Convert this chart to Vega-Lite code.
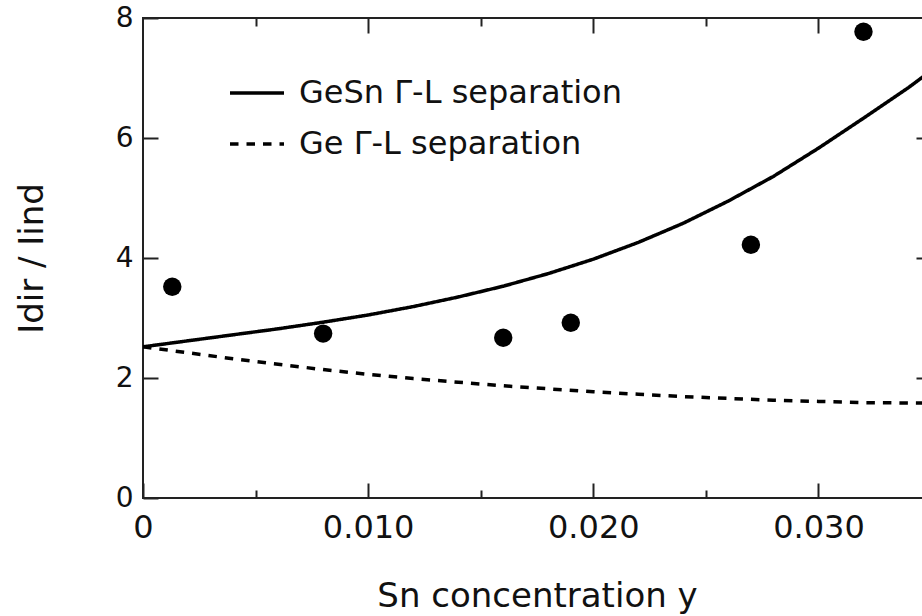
{
  "$schema": "https://vega.github.io/schema/vega-lite/v6.json",
  "autosize": {"type": "none"},
  "width": 788,
  "height": 480,
  "padding": {"left": 143, "top": 18, "right": 0, "bottom": 118},
  "background": "white",
  "config": {
    "view": {"stroke": "#222", "strokeWidth": 2},
    "font": "DejaVu Sans",
    "axis": {
      "grid": false,
      "domain": false,
      "tickColor": "#222",
      "tickWidth": 2,
      "labelColor": "#111",
      "titleColor": "#111",
      "labelFont": "DejaVu Sans",
      "titleFont": "DejaVu Sans",
      "titleFontWeight": "normal"
    }
  },
  "datasets": {
    "measured": [
      {"sn": 0.0013, "ratio": 3.52},
      {"sn": 0.0080, "ratio": 2.74},
      {"sn": 0.0160, "ratio": 2.67},
      {"sn": 0.0190, "ratio": 2.92},
      {"sn": 0.0270, "ratio": 4.22},
      {"sn": 0.0320, "ratio": 7.77}
    ],
    "model": [
      {"series": "GeSn Γ-L separation", "sn": 0.000, "ratio": 2.52},
      {"series": "GeSn Γ-L separation", "sn": 0.002, "ratio": 2.62},
      {"series": "GeSn Γ-L separation", "sn": 0.004, "ratio": 2.72},
      {"series": "GeSn Γ-L separation", "sn": 0.006, "ratio": 2.82},
      {"series": "GeSn Γ-L separation", "sn": 0.008, "ratio": 2.93},
      {"series": "GeSn Γ-L separation", "sn": 0.010, "ratio": 3.05},
      {"series": "GeSn Γ-L separation", "sn": 0.012, "ratio": 3.19},
      {"series": "GeSn Γ-L separation", "sn": 0.014, "ratio": 3.35},
      {"series": "GeSn Γ-L separation", "sn": 0.016, "ratio": 3.53},
      {"series": "GeSn Γ-L separation", "sn": 0.018, "ratio": 3.74},
      {"series": "GeSn Γ-L separation", "sn": 0.020, "ratio": 3.98},
      {"series": "GeSn Γ-L separation", "sn": 0.022, "ratio": 4.26},
      {"series": "GeSn Γ-L separation", "sn": 0.024, "ratio": 4.58},
      {"series": "GeSn Γ-L separation", "sn": 0.026, "ratio": 4.95},
      {"series": "GeSn Γ-L separation", "sn": 0.028, "ratio": 5.36},
      {"series": "GeSn Γ-L separation", "sn": 0.030, "ratio": 5.83},
      {"series": "GeSn Γ-L separation", "sn": 0.032, "ratio": 6.33},
      {"series": "GeSn Γ-L separation", "sn": 0.034, "ratio": 6.84},
      {"series": "GeSn Γ-L separation", "sn": 0.035, "ratio": 7.12},
      {"series": "Ge Γ-L separation", "sn": 0.000, "ratio": 2.52},
      {"series": "Ge Γ-L separation", "sn": 0.002, "ratio": 2.42},
      {"series": "Ge Γ-L separation", "sn": 0.004, "ratio": 2.32},
      {"series": "Ge Γ-L separation", "sn": 0.006, "ratio": 2.23},
      {"series": "Ge Γ-L separation", "sn": 0.008, "ratio": 2.14},
      {"series": "Ge Γ-L separation", "sn": 0.010, "ratio": 2.06},
      {"series": "Ge Γ-L separation", "sn": 0.012, "ratio": 1.99},
      {"series": "Ge Γ-L separation", "sn": 0.014, "ratio": 1.93},
      {"series": "Ge Γ-L separation", "sn": 0.016, "ratio": 1.87},
      {"series": "Ge Γ-L separation", "sn": 0.018, "ratio": 1.82},
      {"series": "Ge Γ-L separation", "sn": 0.020, "ratio": 1.77},
      {"series": "Ge Γ-L separation", "sn": 0.022, "ratio": 1.73},
      {"series": "Ge Γ-L separation", "sn": 0.024, "ratio": 1.69},
      {"series": "Ge Γ-L separation", "sn": 0.026, "ratio": 1.66},
      {"series": "Ge Γ-L separation", "sn": 0.028, "ratio": 1.63},
      {"series": "Ge Γ-L separation", "sn": 0.030, "ratio": 1.61},
      {"series": "Ge Γ-L separation", "sn": 0.032, "ratio": 1.59},
      {"series": "Ge Γ-L separation", "sn": 0.035, "ratio": 1.58}
    ]
  },
  "layer": [
    {
      "data": {"name": "model"},
      "mark": {"type": "line", "color": "black", "strokeWidth": 3.5, "clip": true},
      "encoding": {
        "x": {
          "field": "sn", "type": "quantitative",
          "scale": {"domain": [0, 0.035], "nice": false, "zero": false},
          "axis": {"orient": "top", "values": [0.01, 0.02, 0.03], "tickSize": -15, "labels": false, "title": null}
        },
        "y": {
          "field": "ratio", "type": "quantitative",
          "scale": {"domain": [0, 8], "nice": false},
          "axis": {"orient": "right", "values": [2, 4, 6], "tickSize": -15, "labels": false, "title": null}
        },
        "strokeDash": {
          "field": "series", "type": "nominal",
          "scale": {"domain": ["GeSn Γ-L separation", "Ge Γ-L separation"], "range": [[1, 0], [8.5, 8]]},
          "legend": {
            "title": null,
            "orient": "none",
            "legendX": 85,
            "legendY": 46,
            "padding": 0,
            "symbolType": "stroke",
            "symbolSize": 2916,
            "symbolStrokeWidth": 3.5,
            "symbolStrokeColor": "black",
            "labelFont": "DejaVu Sans",
            "labelFontSize": 32,
            "labelColor": "#111",
            "labelLimit": 0,
            "labelOffset": 13,
            "rowPadding": 6
          }
        }
      }
    },
    {
      "data": {"name": "measured"},
      "mark": {"type": "point", "filled": true, "color": "black", "opacity": 1, "size": 340},
      "encoding": {
        "x": {
          "field": "sn", "type": "quantitative",
          "axis": {
            "orient": "bottom", "values": [0, 0.01, 0.02, 0.03], "tickSize": -15,
            "labelExpr": "datum.value == 0 ? '0' : format(datum.value, '.3f')",
            "labelFontSize": 32, "labelPadding": 29, "labelFlush": false,
            "title": "Sn concentration y", "titleFontSize": 34, "titlePadding": 36
          }
        },
        "y": {
          "field": "ratio", "type": "quantitative",
          "axis": {
            "orient": "left", "values": [0, 2, 4, 6, 8], "tickSize": -15,
            "labelFontSize": 28, "labelPadding": 25, "labelFlush": false,
            "title": "Idir / Iind", "titleFontSize": 34, "titlePadding": 66
          }
        }
      }
    },
    {
      "data": {"name": "measured"},
      "mark": {"type": "point", "opacity": 0},
      "encoding": {
        "x": {
          "field": "sn", "type": "quantitative",
          "axis": {"orient": "bottom", "values": [0.005, 0.015, 0.025], "tickSize": -8, "labels": false, "title": null}
        },
        "y": {"field": "ratio", "type": "quantitative", "axis": null}
      }
    },
    {
      "data": {"name": "measured"},
      "mark": {"type": "point", "opacity": 0},
      "encoding": {
        "x": {
          "field": "sn", "type": "quantitative",
          "axis": {"orient": "top", "values": [0.005, 0.015, 0.025], "tickSize": -8, "labels": false, "title": null}
        },
        "y": {"field": "ratio", "type": "quantitative", "axis": null}
      }
    }
  ],
  "resolve": {"axis": {"x": "independent", "y": "independent"}}
}
